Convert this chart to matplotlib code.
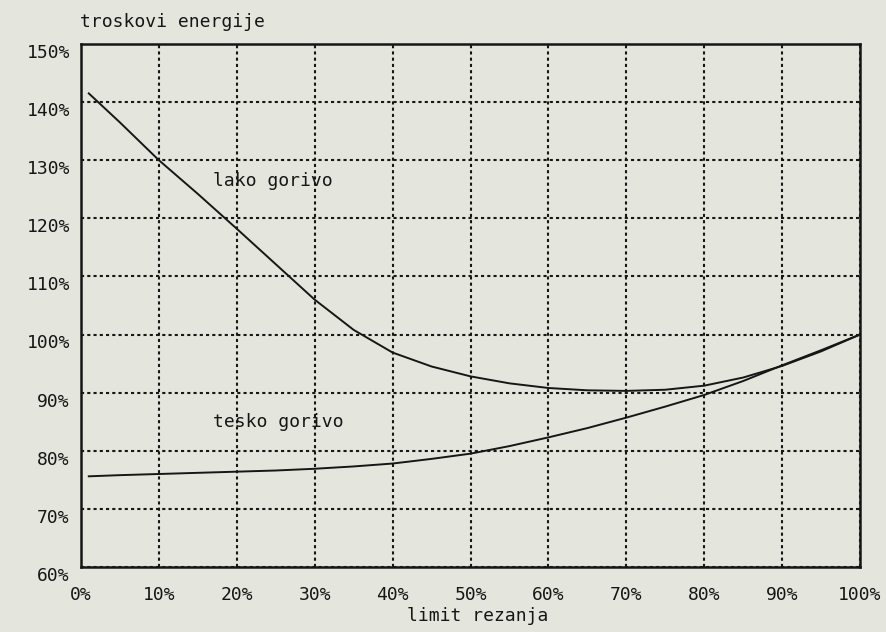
import matplotlib
matplotlib.use("Agg")
import matplotlib.pyplot as plt
import matplotlib.transforms as mtransforms
from matplotlib.ticker import FuncFormatter

# limit rezanja [%]
limit = [1, 5, 10, 15, 20, 25, 30, 35, 40, 45, 50, 55, 60, 65, 70, 75, 80, 85, 90, 95, 100]
# troskovi energije [%]
lakoGorivo = [141.5, 136.5, 130.0, 124.2, 118.2, 112.1, 106.0, 100.8, 96.9, 94.5, 92.8,
              91.6, 90.8, 90.4, 90.3, 90.5, 91.2, 92.6, 94.6, 97.1, 100.0]
teskoGorivo = [75.6, 75.8, 76.0, 76.2, 76.4, 76.6, 76.9, 77.3, 77.8, 78.6, 79.5,
               80.8, 82.3, 83.9, 85.7, 87.6, 89.6, 92.0, 94.7, 97.3, 100.0]
xTicks = list(range(0, 101, 10))
yTicks = list(range(60, 151, 10))

BG = '#e4e6de'
INK = '#161616'
FONT = 'DejaVu Sans Mono'

fig = plt.figure(figsize=(8.87, 6.32), dpi=100, facecolor=BG)
ax = fig.add_axes([0.0913, 0.1029, 0.8783, 0.8275], facecolor=BG)

ax.plot(limit, lakoGorivo, color=INK, linewidth=1.4)
ax.plot(limit, teskoGorivo, color=INK, linewidth=1.4)

ax.set_xlim(0, 100)
ax.set_ylim(60, 150)
ax.set_xticks(xTicks)
ax.set_yticks(yTicks)
pct = FuncFormatter(lambda v, p: "%d%%" % v)
ax.xaxis.set_major_formatter(pct)
ax.yaxis.set_major_formatter(pct)
ax.tick_params(length=0, labelsize=13, colors=INK)
ax.tick_params(axis='x', pad=14)
ax.tick_params(axis='y', pad=8)
for lbl in ax.get_xticklabels() + ax.get_yticklabels():
    lbl.set_fontfamily(FONT)
# y labels sit a bit below their grid line in the original
shift = mtransforms.ScaledTranslation(0, -5 / 72, fig.dpi_scale_trans)
for lbl in ax.get_yticklabels():
    lbl.set_transform(lbl.get_transform() + shift)

ax.grid(True, color=INK, linestyle=(0, (1.5, 1.5)), linewidth=1.5)
for s in ax.spines.values():
    s.set_color(INK)
    s.set_linewidth(1.8)

ax.text(17, 126.5, "lako gorivo", fontsize=13, family=FONT, color=INK, va='center')
ax.text(17, 85.0, "tesko gorivo", fontsize=13, family=FONT, color=INK, va='center')
fig.text(80 / 887, 1 - 22 / 632, "troskovi energije", fontsize=13, family=FONT,
         color=INK, va='center', ha='left')
fig.text(478 / 887, 1 - 616 / 632, "limit rezanja", fontsize=13, family=FONT,
         color=INK, va='center', ha='center')

fig.savefig("out.png", dpi=100, facecolor=BG)
